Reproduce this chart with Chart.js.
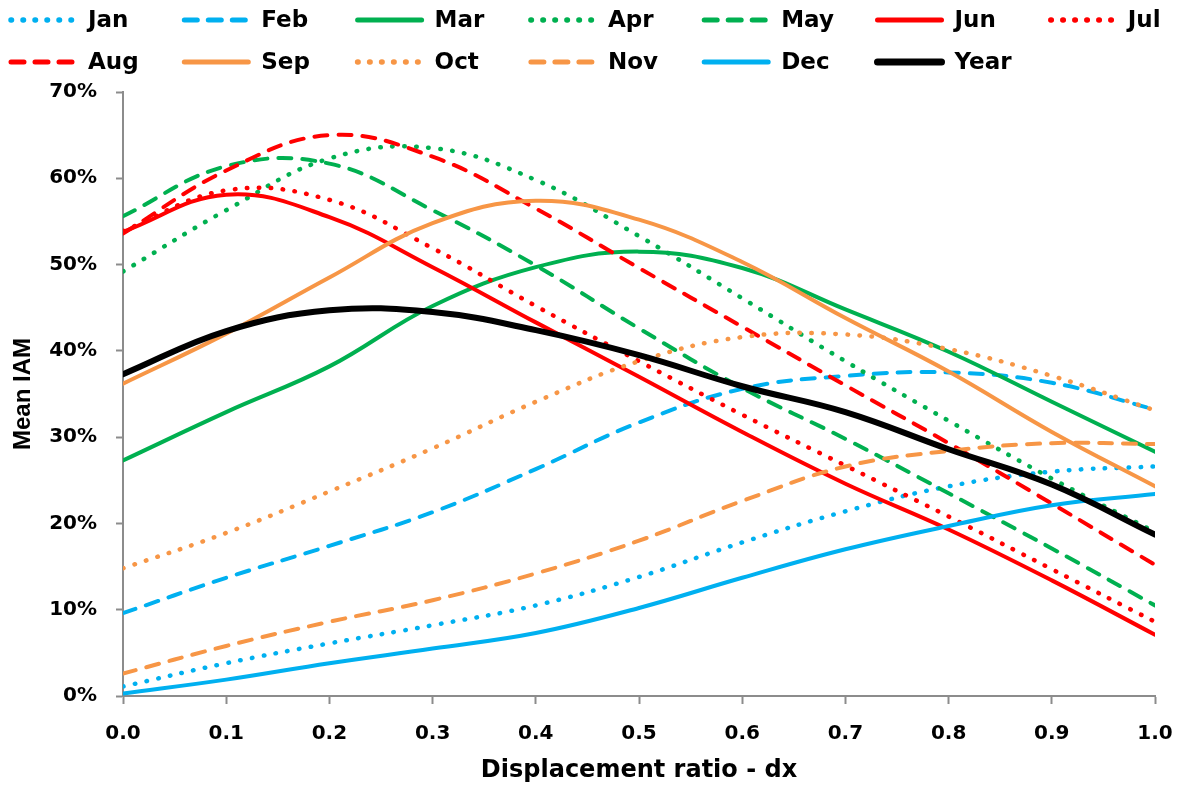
<!DOCTYPE html>
<html lang="en">
<head>
  <meta charset="UTF-8" />
  <title>Mean IAM vs displacement ratio</title>
  <script src="https://cdn.jsdelivr.net/npm/chart.js"></script>
  <style>
    html, body { margin: 0; padding: 0; background: #fff; }
    #wrap { width: 1184px; height: 785px; position: relative; }
  </style>
</head>
<body>
<div id="wrap"><canvas id="iamChart"></canvas></div>

<script>
  // displacement ratio dx (x axis)
  const dx = [0.0, 0.1, 0.2, 0.3, 0.4, 0.5, 0.6, 0.7, 0.8, 0.9, 1.0];

  // mean IAM in %
  const jan  = [1.1, 3.8, 6.1, 8.2, 10.5, 13.8, 17.8, 21.4, 24.3, 26.0, 26.6];
  const feb  = [9.6, 13.7, 17.4, 21.3, 26.3, 31.7, 35.6, 37.1, 37.5, 36.3, 33.2];
  const mar  = [27.3, 32.9, 38.2, 45.2, 49.7, 51.5, 49.6, 44.8, 39.9, 34.1, 28.3];
  const apr  = [49.2, 56.3, 62.3, 63.5, 59.8, 53.3, 46.1, 38.8, 31.9, 25.2, 19.0];
  const may  = [55.6, 61.4, 61.7, 56.3, 49.9, 42.6, 35.7, 29.8, 23.5, 17.1, 10.5];
  const jun  = [53.8, 58.1, 55.5, 49.7, 43.3, 37.0, 30.6, 24.6, 19.3, 13.4, 7.1];
  const jul  = [53.9, 58.6, 57.5, 51.9, 45.2, 38.8, 32.6, 26.7, 20.8, 14.7, 8.6];
  const aug  = [53.6, 60.9, 65.0, 62.5, 56.5, 49.6, 42.8, 36.0, 29.3, 22.3, 15.2];
  const sep  = [36.2, 42.0, 48.5, 54.8, 57.4, 55.2, 50.3, 43.8, 37.6, 30.6, 24.3];
  const oct  = [14.8, 18.9, 23.7, 28.7, 34.1, 38.8, 41.6, 41.9, 40.2, 37.1, 33.1];
  const nov  = [2.6, 5.8, 8.6, 11.1, 14.2, 18.0, 22.6, 26.6, 28.4, 29.3, 29.2];
  const dec  = [0.3, 1.9, 3.8, 5.5, 7.3, 10.2, 13.7, 17.0, 19.7, 22.1, 23.4];
  const year = [37.3, 42.3, 44.7, 44.5, 42.4, 39.5, 35.9, 32.9, 28.6, 24.5, 18.7];

  const yTicks = [0, 10, 20, 30, 40, 50, 60, 70];

  const BLUE = '#00b0f0', GREEN = '#00b050', RED = '#ff0000', ORANGE = '#f79646';
  const DOT = [0.5, 11.5], DASH = [13, 11];

  const series = [
    ['Jan', jan, BLUE, DOT], ['Feb', feb, BLUE, DASH], ['Mar', mar, GREEN, []],
    ['Apr', apr, GREEN, DOT], ['May', may, GREEN, DASH], ['Jun', jun, RED, []],
    ['Jul', jul, RED, DOT], ['Aug', aug, RED, DASH], ['Sep', sep, ORANGE, []],
    ['Oct', oct, ORANGE, DOT], ['Nov', nov, ORANGE, DASH], ['Dec', dec, BLUE, []],
    ['Year', year, '#000000', []]
  ];

  const datasets = series.map(([label, vals, color, dash], i) => ({
    label,
    data: vals.map((v, k) => ({ x: dx[k], y: v })),
    borderColor: color,
    backgroundColor: color,
    borderWidth: label === 'Year' ? 6 : (dash === DOT ? 4.5 : 4),
    borderDash: dash,
    borderCapStyle: 'round',
    borderJoinStyle: 'round',
    pointRadius: 0,
    tension: 0.4,
    fill: false,
    order: series.length - i   // later series drawn on top, like the original
  }));

  // legend in a fixed 7-column grid above the plot
  const gridLegend = {
    id: 'gridLegend',
    afterDraw(chart) {
      const ctx = chart.ctx;
      chart.data.datasets.forEach((ds, i) => {
        const col = i % 7, row = Math.floor(i / 7);
        const x0 = 11 + col * 173.3, y = 20 + row * 42;
        ctx.save();
        ctx.strokeStyle = ds.borderColor;
        ctx.lineWidth = ds.borderWidth + 1;
        ctx.lineCap = 'round';
        ctx.setLineDash(ds.borderDash);
        ctx.beginPath();
        ctx.moveTo(x0, y);
        ctx.lineTo(x0 + 64, y);
        ctx.stroke();
        ctx.setLineDash([]);
        ctx.fillStyle = '#000';
        ctx.font = 'bold 23px "DejaVu Sans"';
        ctx.textBaseline = 'middle';
        ctx.fillText(ds.label, x0 + 77, y + 1);
        ctx.restore();
      });
    }
  };

  const axisGrey = '#8c8c8c';

  new Chart(document.getElementById('iamChart'), {
    type: 'line',
    data: { datasets },
    plugins: [gridLegend],
    options: {
      responsive: true,
      maintainAspectRatio: false,
      animation: false,
      layout: { padding: { top: 92, right: 29, left: 0, bottom: 0 } },
      plugins: { legend: { display: false }, tooltip: { enabled: false } },
      scales: {
        x: {
          type: 'linear',
          min: 0, max: 1,
          afterFit: s => { s.height = 89; s.paddingLeft = 0; s.paddingRight = 0; },
          afterBuildTicks: s => { s.ticks = dx.map(v => ({ value: v })); },
          grid: { display: true, drawOnChartArea: false, drawTicks: true, tickLength: 8, tickColor: axisGrey, tickWidth: 2 },
          border: { color: axisGrey, width: 2 },
          ticks: {
            color: '#000',
            padding: 18,
            maxRotation: 0,
            font: { family: 'DejaVu Sans', weight: 'bold', size: 20 },
            callback: v => v.toFixed(1)
          },
          title: {
            display: true,
            text: 'Displacement ratio - dx',
            color: '#000',
            padding: { top: 2, bottom: 0 },
            font: { family: 'DejaVu Sans', weight: 'bold', size: 24 }
          }
        },
        y: {
          min: 0, max: 70,
          afterFit: s => { s.width = 123; },
          afterBuildTicks: s => { s.ticks = yTicks.map(v => ({ value: v })); },
          grid: { display: true, drawOnChartArea: false, drawTicks: true, tickLength: 7, tickColor: axisGrey, tickWidth: 2 },
          border: { color: axisGrey, width: 2 },
          ticks: {
            color: '#000',
            padding: 19,
            font: { family: 'DejaVu Sans', weight: 'bold', size: 20 },
            callback: v => v + '%'
          },
          title: {
            display: true,
            text: 'Mean IAM',
            color: '#000',
            padding: { top: 9, bottom: 0 },
            font: { family: 'Liberation Sans', weight: 'bold', size: 24 }
          }
        }
      }
    }
  });
</script>
</body>
</html>
